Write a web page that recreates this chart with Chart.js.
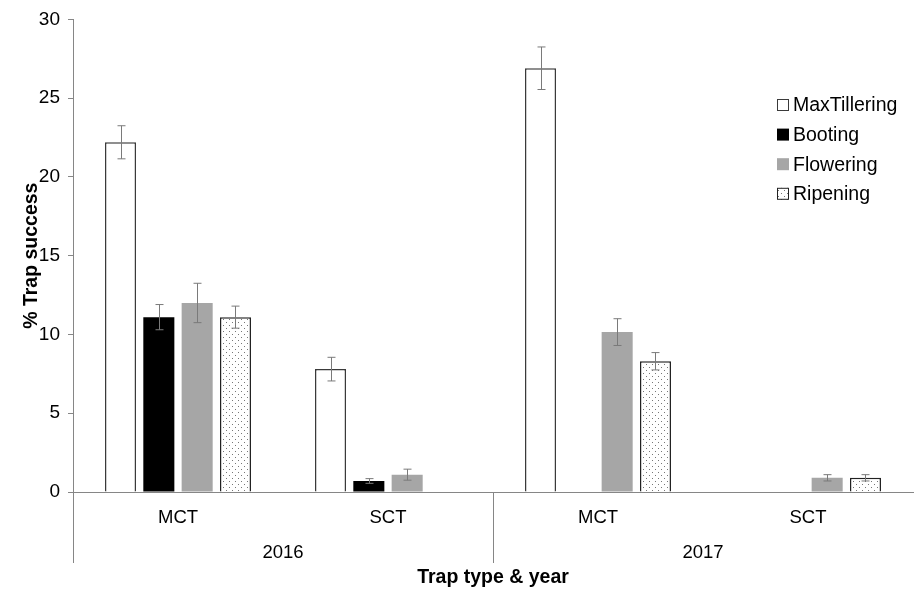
<!DOCTYPE html>
<html>
<head>
<meta charset="utf-8">
<script src="https://cdn.jsdelivr.net/npm/chart.js@4/dist/chart.umd.min.js"></script>
<style>
  html, body { margin: 0; padding: 0; background: #fff; }
  #wrap { width: 917px; height: 592px; }
</style>
</head>
<body>
<div id="wrap"><canvas id="chart" width="917" height="592"></canvas></div>
<script>
// chart data
const categories = ['MCT', 'SCT', 'MCT', 'SCT'];
const years = ['2016', '2017'];
const seriesNames = ['MaxTillering', 'Booting', 'Flowering', 'Ripening'];

const maxTillering = [22.2, 7.8, 26.9, null];
const booting = [11.1, 0.7, null, null];
const flowering = [12.0, 1.1, 10.15, 0.9];
const ripening = [11.1, null, 8.3, 0.9];

const maxTilleringErr = [1.05, 0.75, 1.35, 0];
const bootingErr = [0.8, 0.15, 0, 0];
const floweringErr = [1.25, 0.35, 0.85, 0.2];
const ripeningErr = [0.7, 0, 0.55, 0.2];

const yTicks = [0, 5, 10, 15, 20, 25, 30];

// dotted fill for Ripening
function dotPattern() {
  const c = document.createElement('canvas');
  c.width = 6; c.height = 6;
  const g = c.getContext('2d');
  g.fillStyle = '#fff';
  g.fillRect(0, 0, 6, 6);
  g.fillStyle = '#777';
  g.fillRect(1, 1, 1, 1);
  g.fillRect(4, 4, 1, 1);
  return document.getElementById('chart').getContext('2d').createPattern(c, 'repeat');
}
const dots = dotPattern();

const FONT = "'Liberation Sans', Arial, sans-serif";

// error bars drawn from the y scale
const errorBars = {
  id: 'errorBars',
  afterDatasetsDraw(chart) {
    const ctx = chart.ctx;
    const y = chart.scales.y;
    ctx.save();
    ctx.strokeStyle = '#7a7a7a';
    ctx.lineWidth = 1;
    chart.data.datasets.forEach((ds, di) => {
      const meta = chart.getDatasetMeta(di);
      meta.data.forEach((bar, i) => {
        const v = ds.data[i];
        const e = ds.errors[i];
        if (v == null || !e) return;
        const top = y.getPixelForValue(v + e);
        const bot = y.getPixelForValue(v - e);
        const x = Math.round(bar.x) + 0.5;
        ctx.beginPath();
        ctx.moveTo(x, top); ctx.lineTo(x, bot);
        ctx.moveTo(x - 4, top); ctx.lineTo(x + 4, top);
        ctx.moveTo(x - 4, bot); ctx.lineTo(x + 4, bot);
        ctx.stroke();
      });
    });
    ctx.restore();
  }
};

// group divider lines under the x axis
const dividers = {
  id: 'dividers',
  afterDraw(chart) {
    const ctx = chart.ctx;
    const x = chart.scales.x;
    const x2 = chart.scales.x2;
    const y0 = chart.scales.y.getPixelForValue(0);
    const mid = (x.getPixelForValue(1) + x.getPixelForValue(2)) / 2;
    ctx.save();
    ctx.strokeStyle = '#868686';
    ctx.lineWidth = 1;
    [x.left, mid].forEach(px => {
      const p = Math.round(px) + 0.5;
      ctx.beginPath();
      ctx.moveTo(p, y0);
      ctx.lineTo(p, x2.top + 33);
      ctx.stroke();
    });
    ctx.restore();
  }
};

// legend at the upper right
const boxLegend = {
  id: 'boxLegend',
  afterDraw(chart) {
    const ctx = chart.ctx;
    ctx.save();
    ctx.font = '19.5px ' + FONT;
    ctx.textBaseline = 'middle';
    chart.data.datasets.forEach((ds, i) => {
      const bx = 777, cy = 105 + i * 29.6;
      ctx.fillStyle = ds.backgroundColor;
      ctx.fillRect(bx, cy - 6, 12, 12);
      if (ds.borderWidth) {
        ctx.strokeStyle = ds.borderColor;
        ctx.lineWidth = 1;
        ctx.strokeRect(bx + 0.5, cy - 5.5, 11, 11);
      }
      ctx.fillStyle = '#000';
      ctx.fillText(ds.label, 793, cy + 1);
    });
    ctx.restore();
  }
};

new Chart(document.getElementById('chart'), {
  type: 'bar',
  data: {
    labels: categories,
    datasets: [
      { label: seriesNames[0], data: maxTillering, errors: maxTilleringErr,
        backgroundColor: '#ffffff', borderColor: '#3a3a3a', borderWidth: 1.5 },
      { label: seriesNames[1], data: booting, errors: bootingErr,
        backgroundColor: '#000000', borderColor: '#000000', borderWidth: 0 },
      { label: seriesNames[2], data: flowering, errors: floweringErr,
        backgroundColor: '#a6a6a6', borderColor: '#a6a6a6', borderWidth: 0 },
      { label: seriesNames[3], data: ripening, errors: ripeningErr,
        backgroundColor: dots, borderColor: '#222222', borderWidth: 1.5 }
    ]
  },
  options: {
    responsive: false,
    animation: false,
    layout: { padding: { top: 17, right: 4, left: 0, bottom: 0 } },
    datasets: { bar: { categoryPercentage: 0.73, barPercentage: 0.81 } },
    plugins: {
      legend: { display: false },
      tooltip: { enabled: false }
    },
    scales: {
      x: {
        position: 'bottom',
        weight: 0,
        grid: { display: false },
        border: { color: '#868686', width: 1 },
        ticks: { color: '#000', font: { family: FONT, size: 18.5 }, padding: 7, maxRotation: 0 },
        afterFit(s) { s.height = 38; }
      },
      x2: {
        type: 'category',
        labels: years,
        position: 'bottom',
        weight: 1,
        offset: true,
        grid: { display: false },
        border: { display: false },
        ticks: { color: '#000', font: { family: FONT, size: 18.5 }, padding: 4, maxRotation: 0 },
        title: {
          display: true, text: 'Trap type & year', color: '#000',
          font: { family: FONT, size: 19.5, weight: 'bold' },
          padding: { top: 0, bottom: 3 }
        },
        afterFit(s) { s.height = 62; }
      },
      y: {
        min: 0, max: 30,
        afterBuildTicks(s) { s.ticks = yTicks.map(v => ({ value: v })); },
        grid: { drawOnChartArea: false, color: '#868686', tickLength: 5 },
        border: { color: '#868686', width: 1 },
        ticks: { color: '#000', font: { family: FONT, size: 19 }, padding: 8 },
        title: {
          display: true, text: '% Trap success', color: '#000',
          font: { family: FONT, size: 19.5, weight: 'bold' },
          padding: { top: 20, bottom: 0 }
        },
        afterFit(s) { s.width = 73; }
      }
    }
  },
  plugins: [errorBars, dividers, boxLegend]
});
</script>
</body>
</html>
